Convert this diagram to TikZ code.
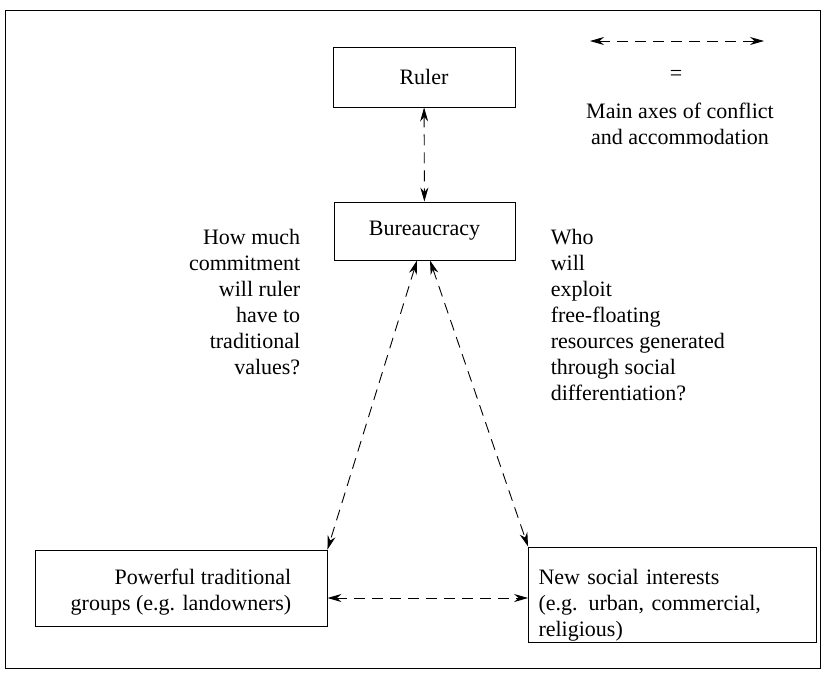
\documentclass[tikz,border=0pt]{standalone}
\usepackage{fontspec}
\setmainfont{Liberation Serif}
\usetikzlibrary{arrows.meta}
\begin{document}
\begin{tikzpicture}[x = 1pt, y = -1pt, line width = .9pt,
    font = \fontsize{22}{26}\selectfont,
    box/.style = {draw, inner sep = 0pt},
    axis/.style = {dash pattern = on 11pt off 7pt,
      {Stealth[length = 14pt, width = 8pt]}-{Stealth[length = 14pt, width = 8pt]}}]
  \useasboundingbox (0,0) rectangle (826,678);
  \draw [line width = .7pt] (5,10) rectangle (820,668);
  \node [box, minimum width = 182pt, minimum height = 60pt] (ruler)
    at (424,77) {Ruler};
  \node [box, minimum width = 181pt, minimum height = 58pt] (bur)
    at (424.5,231) {Bureaucracy};
  \node [box, minimum width = 292pt, align = right, text height = 60pt,
    text depth = 16pt, anchor = base] (trad) at (181,610)
    {Powerful traditional\\groups (e.g. landowners)};
  \node [box, align = left, text width = 268pt, inner xsep = 10pt,
    text height = 37pt, text depth = 58pt, anchor = base] (new) at (672.5,584)
    {New social interests\\(e.g. urban, commercial,\\religious)};
  \draw [axis] (ruler) -- (bur);
  \draw [axis] ([xshift = -7.5pt]bur.south) -- (trad.north east);
  \draw [axis] ([xshift = 5.5pt]bur.south) -- (new.north west);
  \draw [axis] (trad.east |- 0,598) -- (new.west |- 0,598);
  \node [anchor = north east, align = right] (how) at (304,225)
    {How much\\commitment\\will ruler\\have to\\traditional\\values?};
  \node [anchor = north west, align = left] (who) at (547,225)
    {Who\\will\\exploit\\free-floating\\resources generated\\through social\\differentiation?};
  % legend
  \coordinate (legl) at (590,41);
  \coordinate (legr) at (764,41);
  \draw [axis] (legl) -- (legr);
  \node (eq) at (676,75) {=};
  \node [align = center] (key) at (680,124)
    {Main axes of conflict\\and accommodation};
\end{tikzpicture}
\end{document}
